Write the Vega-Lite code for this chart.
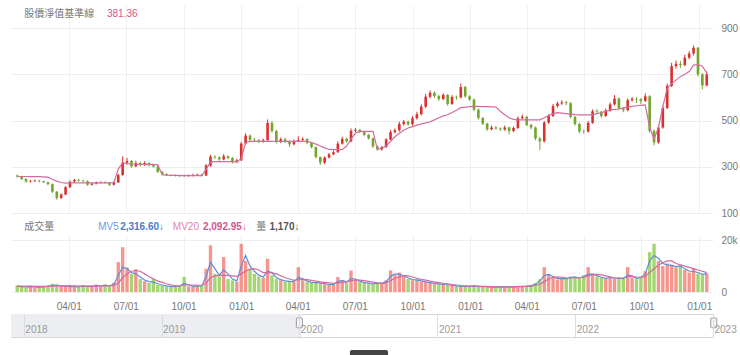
{
"$schema": "https://vega.github.io/schema/vega-lite/v6.json",
"padding": {"left": 10, "top": 5, "right": 0, "bottom": 0},
"background": "white",
"bounds": "flush",
"spacing": 22,
"config": {"font": "Noto Sans CJK TC", "view": {"stroke": null}},
"datasets": {"k": [
{"date":"2020-01-10","o":262,"h":266,"l":253,"c":258,"v":2600,"bv":258,"m5":2200,"m20":2300},
{"date":"2020-01-17","o":258,"h":261,"l":243,"c":247,"v":2200,"bv":258,"m5":2100,"m20":2300},
{"date":"2020-01-24","o":247,"h":250,"l":231,"c":236,"v":1800,"bv":258,"m5":2000,"m20":2250},
{"date":"2020-01-31","o":236,"h":243,"l":232,"c":238,"v":2400,"bv":257,"m5":2100,"m20":2250},
{"date":"2020-02-07","o":238,"h":245,"l":234,"c":240,"v":1500,"bv":257,"m5":1900,"m20":2200},
{"date":"2020-02-14","o":240,"h":244,"l":233,"c":237,"v":1900,"bv":257,"m5":1900,"m20":2150},
{"date":"2020-02-21","o":237,"h":240,"l":229,"c":233,"v":2100,"bv":256,"m5":2000,"m20":2150},
{"date":"2020-02-28","o":233,"h":236,"l":220,"c":225,"v":2500,"bv":255,"m5":2200,"m20":2200},
{"date":"2020-03-06","o":225,"h":228,"l":187,"c":192,"v":3200,"bv":245,"m5":2600,"m20":2300},
{"date":"2020-03-13","o":192,"h":195,"l":158,"c":165,"v":2800,"bv":238,"m5":2700,"m20":2350},
{"date":"2020-03-20","o":165,"h":185,"l":160,"c":180,"v":2400,"bv":232,"m5":2400,"m20":2400},
{"date":"2020-03-27","o":180,"h":216,"l":177,"c":212,"v":2000,"bv":229,"m5":2200,"m20":2400},
{"date":"2020-04-03","o":212,"h":240,"l":208,"c":236,"v":2600,"bv":230,"m5":2200,"m20":2400},
{"date":"2020-04-10","o":236,"h":248,"l":232,"c":243,"v":1800,"bv":230,"m5":2000,"m20":2350},
{"date":"2020-04-17","o":243,"h":248,"l":236,"c":240,"v":2200,"bv":230,"m5":2100,"m20":2300},
{"date":"2020-04-24","o":240,"h":244,"l":233,"c":238,"v":2700,"bv":230,"m5":2300,"m20":2300},
{"date":"2020-05-01","o":238,"h":241,"l":218,"c":222,"v":2000,"bv":230,"m5":2200,"m20":2250},
{"date":"2020-05-08","o":222,"h":231,"l":219,"c":227,"v":2400,"bv":230,"m5":2200,"m20":2250},
{"date":"2020-05-15","o":227,"h":236,"l":224,"c":232,"v":2900,"bv":230,"m5":2500,"m20":2300},
{"date":"2020-05-22","o":232,"h":237,"l":228,"c":233,"v":2100,"bv":230,"m5":2400,"m20":2300},
{"date":"2020-05-29","o":233,"h":237,"l":227,"c":231,"v":3000,"bv":230,"m5":2500,"m20":2350},
{"date":"2020-06-05","o":231,"h":234,"l":217,"c":222,"v":2300,"bv":230,"m5":2500,"m20":2350},
{"date":"2020-06-12","o":222,"h":236,"l":219,"c":232,"v":3600,"bv":232,"m5":2900,"m20":2500},
{"date":"2020-06-19","o":232,"h":270,"l":230,"c":264,"v":11500,"bv":290,"m5":6500,"m20":3500},
{"date":"2020-06-26","o":264,"h":345,"l":262,"c":318,"v":17300,"bv":318,"m5":9600,"m20":5500},
{"date":"2020-07-03","o":318,"h":338,"l":310,"c":325,"v":9500,"bv":314,"m5":9000,"m20":7000},
{"date":"2020-07-10","o":325,"h":330,"l":296,"c":302,"v":7000,"bv":312,"m5":7500,"m20":8000},
{"date":"2020-07-17","o":302,"h":326,"l":298,"c":316,"v":8800,"bv":311,"m5":7000,"m20":8300},
{"date":"2020-07-24","o":316,"h":322,"l":302,"c":308,"v":5000,"bv":310,"m5":5800,"m20":8000},
{"date":"2020-07-31","o":308,"h":324,"l":304,"c":316,"v":4200,"bv":310,"m5":4600,"m20":7000},
{"date":"2020-08-07","o":316,"h":320,"l":301,"c":307,"v":3500,"bv":310,"m5":4000,"m20":6000},
{"date":"2020-08-14","o":307,"h":312,"l":296,"c":301,"v":5200,"bv":310,"m5":3800,"m20":5000},
{"date":"2020-08-21","o":301,"h":304,"l":273,"c":278,"v":2800,"bv":308,"m5":3200,"m20":4200},
{"date":"2020-08-28","o":278,"h":281,"l":263,"c":268,"v":2600,"bv":266,"m5":2700,"m20":3700},
{"date":"2020-09-04","o":268,"h":272,"l":260,"c":264,"v":2200,"bv":264,"m5":2400,"m20":3200},
{"date":"2020-09-11","o":264,"h":268,"l":259,"c":263,"v":2000,"bv":263,"m5":2200,"m20":2800},
{"date":"2020-09-18","o":263,"h":267,"l":258,"c":262,"v":2400,"bv":263,"m5":2200,"m20":2500},
{"date":"2020-09-25","o":262,"h":266,"l":257,"c":261,"v":2100,"bv":262,"m5":2300,"m20":2300},
{"date":"2020-10-02","o":261,"h":266,"l":256,"c":260,"v":5800,"bv":262,"m5":3300,"m20":2700},
{"date":"2020-10-09","o":260,"h":267,"l":257,"c":262,"v":2200,"bv":262,"m5":2800,"m20":2700},
{"date":"2020-10-16","o":262,"h":270,"l":258,"c":265,"v":2000,"bv":262,"m5":2200,"m20":2700},
{"date":"2020-10-23","o":265,"h":271,"l":261,"c":266,"v":2500,"bv":262,"m5":2300,"m20":2700},
{"date":"2020-10-30","o":266,"h":268,"l":258,"c":262,"v":2300,"bv":262,"m5":2400,"m20":2500},
{"date":"2020-11-06","o":262,"h":312,"l":260,"c":305,"v":9000,"bv":290,"m5":6000,"m20":3500},
{"date":"2020-11-13","o":305,"h":352,"l":300,"c":344,"v":18000,"bv":320,"m5":11500,"m20":5500},
{"date":"2020-11-20","o":344,"h":350,"l":334,"c":341,"v":7000,"bv":322,"m5":9000,"m20":6200},
{"date":"2020-11-27","o":341,"h":345,"l":326,"c":332,"v":6000,"bv":322,"m5":6500,"m20":6400},
{"date":"2020-12-04","o":332,"h":355,"l":328,"c":345,"v":13500,"bv":322,"m5":8500,"m20":6400},
{"date":"2020-12-11","o":345,"h":350,"l":332,"c":338,"v":5000,"bv":322,"m5":7000,"m20":6400},
{"date":"2020-12-18","o":338,"h":342,"l":314,"c":320,"v":4500,"bv":322,"m5":5000,"m20":6200},
{"date":"2020-12-25","o":320,"h":334,"l":316,"c":328,"v":4000,"bv":322,"m5":4300,"m20":6000},
{"date":"2021-01-01","o":328,"h":408,"l":325,"c":400,"v":18600,"bv":335,"m5":10000,"m20":7000},
{"date":"2021-01-08","o":400,"h":445,"l":396,"c":435,"v":12000,"bv":405,"m5":14100,"m20":8000},
{"date":"2021-01-15","o":435,"h":440,"l":410,"c":417,"v":9000,"bv":410,"m5":10000,"m20":8800},
{"date":"2021-01-22","o":417,"h":425,"l":408,"c":415,"v":7000,"bv":410,"m5":8000,"m20":9000},
{"date":"2021-01-29","o":415,"h":420,"l":402,"c":409,"v":6000,"bv":410,"m5":6500,"m20":8500},
{"date":"2021-02-05","o":409,"h":422,"l":404,"c":415,"v":5500,"bv":410,"m5":5800,"m20":7500},
{"date":"2021-02-12","o":415,"h":505,"l":412,"c":490,"v":12800,"bv":410,"m5":8000,"m20":7500},
{"date":"2021-02-19","o":490,"h":498,"l":448,"c":455,"v":6500,"bv":410,"m5":7500,"m20":7400},
{"date":"2021-02-26","o":455,"h":460,"l":400,"c":408,"v":5000,"bv":410,"m5":5500,"m20":7000},
{"date":"2021-03-05","o":408,"h":426,"l":402,"c":419,"v":4500,"bv":410,"m5":4800,"m20":6300},
{"date":"2021-03-12","o":419,"h":424,"l":404,"c":410,"v":4000,"bv":410,"m5":4300,"m20":5500},
{"date":"2021-03-19","o":410,"h":414,"l":386,"c":397,"v":4200,"bv":410,"m5":4100,"m20":5000},
{"date":"2021-03-26","o":397,"h":418,"l":393,"c":412,"v":3800,"bv":410,"m5":4000,"m20":4500},
{"date":"2021-04-02","o":412,"h":432,"l":408,"c":416,"v":9600,"bv":410,"m5":5500,"m20":4800},
{"date":"2021-04-09","o":416,"h":428,"l":410,"c":420,"v":4500,"bv":410,"m5":5200,"m20":4900},
{"date":"2021-04-16","o":420,"h":424,"l":398,"c":404,"v":3800,"bv":410,"m5":4200,"m20":4800},
{"date":"2021-04-23","o":404,"h":408,"l":380,"c":385,"v":3500,"bv":405,"m5":3700,"m20":4500},
{"date":"2021-04-30","o":385,"h":388,"l":336,"c":342,"v":3800,"bv":398,"m5":3600,"m20":4200},
{"date":"2021-05-07","o":342,"h":345,"l":308,"c":318,"v":3400,"bv":390,"m5":3500,"m20":3900},
{"date":"2021-05-14","o":318,"h":345,"l":312,"c":340,"v":3000,"bv":382,"m5":3200,"m20":3700},
{"date":"2021-05-21","o":340,"h":360,"l":336,"c":354,"v":2800,"bv":375,"m5":2900,"m20":3500},
{"date":"2021-05-28","o":354,"h":370,"l":350,"c":363,"v":3000,"bv":374,"m5":2900,"m20":3300},
{"date":"2021-06-04","o":363,"h":410,"l":360,"c":400,"v":5800,"bv":374,"m5":4000,"m20":3500},
{"date":"2021-06-11","o":400,"h":430,"l":396,"c":421,"v":4200,"bv":374,"m5":4500,"m20":3700},
{"date":"2021-06-18","o":421,"h":426,"l":404,"c":410,"v":3600,"bv":390,"m5":3900,"m20":3900},
{"date":"2021-06-25","o":410,"h":466,"l":406,"c":456,"v":8300,"bv":420,"m5":5200,"m20":4400},
{"date":"2021-07-02","o":456,"h":468,"l":450,"c":460,"v":4500,"bv":445,"m5":5000,"m20":4700},
{"date":"2021-07-09","o":460,"h":464,"l":445,"c":451,"v":3800,"bv":453,"m5":4100,"m20":4600},
{"date":"2021-07-16","o":451,"h":455,"l":432,"c":438,"v":3500,"bv":453,"m5":3700,"m20":4400},
{"date":"2021-07-23","o":438,"h":442,"l":418,"c":423,"v":3200,"bv":453,"m5":3400,"m20":4100},
{"date":"2021-07-30","o":423,"h":426,"l":382,"c":388,"v":3000,"bv":453,"m5":3100,"m20":3800},
{"date":"2021-08-06","o":388,"h":392,"l":370,"c":375,"v":3500,"bv":376,"m5":3300,"m20":3500},
{"date":"2021-08-13","o":375,"h":390,"l":370,"c":385,"v":3300,"bv":380,"m5":3400,"m20":3300},
{"date":"2021-08-20","o":385,"h":424,"l":382,"c":418,"v":4500,"bv":390,"m5":4000,"m20":3500},
{"date":"2021-08-27","o":418,"h":458,"l":414,"c":450,"v":8300,"bv":410,"m5":6000,"m20":4400},
{"date":"2021-09-03","o":450,"h":466,"l":444,"c":458,"v":6500,"bv":430,"m5":7000,"m20":5300},
{"date":"2021-09-10","o":458,"h":495,"l":452,"c":485,"v":7500,"bv":445,"m5":6800,"m20":5800},
{"date":"2021-09-17","o":485,"h":503,"l":478,"c":495,"v":6000,"bv":458,"m5":6300,"m20":6300},
{"date":"2021-09-24","o":495,"h":500,"l":478,"c":484,"v":5000,"bv":468,"m5":5400,"m20":6200},
{"date":"2021-10-01","o":484,"h":520,"l":478,"c":510,"v":4500,"bv":474,"m5":4800,"m20":5800},
{"date":"2021-10-08","o":510,"h":538,"l":504,"c":528,"v":4800,"bv":480,"m5":4700,"m20":5300},
{"date":"2021-10-15","o":528,"h":570,"l":522,"c":560,"v":4000,"bv":486,"m5":4300,"m20":4900},
{"date":"2021-10-22","o":560,"h":615,"l":555,"c":603,"v":3800,"bv":490,"m5":3900,"m20":4600},
{"date":"2021-10-29","o":603,"h":630,"l":596,"c":620,"v":3500,"bv":495,"m5":3600,"m20":4200},
{"date":"2021-11-05","o":620,"h":626,"l":598,"c":606,"v":3200,"bv":503,"m5":3300,"m20":3900},
{"date":"2021-11-12","o":606,"h":612,"l":585,"c":593,"v":3000,"bv":512,"m5":3100,"m20":3600},
{"date":"2021-11-19","o":593,"h":618,"l":588,"c":611,"v":2800,"bv":520,"m5":2900,"m20":3300},
{"date":"2021-11-26","o":611,"h":615,"l":565,"c":572,"v":2700,"bv":525,"m5":2800,"m20":3100},
{"date":"2021-12-03","o":572,"h":610,"l":568,"c":602,"v":2500,"bv":535,"m5":2600,"m20":2900},
{"date":"2021-12-10","o":602,"h":608,"l":590,"c":600,"v":2200,"bv":545,"m5":2400,"m20":2700},
{"date":"2021-12-17","o":600,"h":660,"l":596,"c":645,"v":2400,"bv":556,"m5":2300,"m20":2500},
{"date":"2021-12-24","o":645,"h":650,"l":598,"c":605,"v":2100,"bv":558,"m5":2200,"m20":2400},
{"date":"2021-12-31","o":605,"h":610,"l":585,"c":591,"v":2300,"bv":560,"m5":2200,"m20":2300},
{"date":"2022-01-07","o":591,"h":595,"l":540,"c":547,"v":2500,"bv":561,"m5":2400,"m20":2300},
{"date":"2022-01-14","o":547,"h":552,"l":504,"c":511,"v":2000,"bv":561,"m5":2200,"m20":2300},
{"date":"2022-01-21","o":511,"h":515,"l":480,"c":487,"v":2200,"bv":560,"m5":2100,"m20":2200},
{"date":"2022-01-28","o":487,"h":490,"l":455,"c":462,"v":2000,"bv":560,"m5":2100,"m20":2200},
{"date":"2022-02-04","o":462,"h":478,"l":458,"c":470,"v":1800,"bv":559,"m5":1900,"m20":2100},
{"date":"2022-02-11","o":470,"h":476,"l":460,"c":466,"v":2000,"bv":558,"m5":1900,"m20":2000},
{"date":"2022-02-18","o":466,"h":470,"l":455,"c":462,"v":2200,"bv":540,"m5":2100,"m20":2000},
{"date":"2022-02-25","o":462,"h":478,"l":456,"c":470,"v":1900,"bv":525,"m5":2000,"m20":2000},
{"date":"2022-03-04","o":470,"h":474,"l":440,"c":455,"v":2100,"bv":512,"m5":2000,"m20":2000},
{"date":"2022-03-11","o":455,"h":474,"l":450,"c":468,"v":2000,"bv":505,"m5":2000,"m20":2000},
{"date":"2022-03-18","o":468,"h":518,"l":464,"c":510,"v":2300,"bv":503,"m5":2200,"m20":2100},
{"date":"2022-03-25","o":510,"h":526,"l":505,"c":516,"v":2100,"bv":503,"m5":2200,"m20":2100},
{"date":"2022-04-01","o":516,"h":520,"l":475,"c":481,"v":2400,"bv":503,"m5":2300,"m20":2200},
{"date":"2022-04-08","o":481,"h":486,"l":462,"c":470,"v":2600,"bv":503,"m5":2500,"m20":2300},
{"date":"2022-04-15","o":470,"h":474,"l":415,"c":422,"v":3500,"bv":503,"m5":3000,"m20":2500},
{"date":"2022-04-22","o":422,"h":428,"l":372,"c":410,"v":5000,"bv":503,"m5":4300,"m20":3000},
{"date":"2022-04-29","o":410,"h":498,"l":405,"c":491,"v":9600,"bv":512,"m5":6400,"m20":4000},
{"date":"2022-05-06","o":491,"h":528,"l":486,"c":520,"v":7000,"bv":522,"m5":6800,"m20":5000},
{"date":"2022-05-13","o":520,"h":572,"l":515,"c":563,"v":6000,"bv":530,"m5":6000,"m20":5600},
{"date":"2022-05-20","o":563,"h":582,"l":556,"c":574,"v":4800,"bv":534,"m5":5200,"m20":5800},
{"date":"2022-05-27","o":574,"h":588,"l":568,"c":579,"v":5500,"bv":532,"m5":5200,"m20":5700},
{"date":"2022-06-03","o":579,"h":585,"l":566,"c":575,"v":5000,"bv":530,"m5":5100,"m20":5500},
{"date":"2022-06-10","o":575,"h":580,"l":510,"c":516,"v":6000,"bv":528,"m5":5600,"m20":5400},
{"date":"2022-06-17","o":516,"h":520,"l":478,"c":485,"v":5800,"bv":526,"m5":5800,"m20":5500},
{"date":"2022-06-24","o":485,"h":490,"l":445,"c":453,"v":5200,"bv":525,"m5":5400,"m20":5500},
{"date":"2022-07-01","o":453,"h":462,"l":443,"c":452,"v":6500,"bv":525,"m5":6000,"m20":5700},
{"date":"2022-07-08","o":452,"h":498,"l":448,"c":490,"v":9600,"bv":525,"m5":6800,"m20":6300},
{"date":"2022-07-15","o":490,"h":548,"l":486,"c":540,"v":7000,"bv":525,"m5":7000,"m20":6700},
{"date":"2022-07-22","o":540,"h":550,"l":530,"c":538,"v":6000,"bv":530,"m5":6300,"m20":6800},
{"date":"2022-07-29","o":538,"h":542,"l":512,"c":520,"v":5500,"bv":535,"m5":5700,"m20":6600},
{"date":"2022-08-05","o":520,"h":552,"l":516,"c":544,"v":5200,"bv":540,"m5":5300,"m20":6200},
{"date":"2022-08-12","o":544,"h":578,"l":538,"c":570,"v":6000,"bv":545,"m5":5600,"m20":5800},
{"date":"2022-08-19","o":570,"h":610,"l":565,"c":595,"v":5000,"bv":548,"m5":5300,"m20":5500},
{"date":"2022-08-26","o":595,"h":600,"l":545,"c":552,"v":5500,"bv":550,"m5":5300,"m20":5400},
{"date":"2022-09-02","o":552,"h":558,"l":536,"c":545,"v":5200,"bv":555,"m5":5200,"m20":5400},
{"date":"2022-09-09","o":545,"h":596,"l":540,"c":588,"v":9600,"bv":558,"m5":6500,"m20":5800},
{"date":"2022-09-16","o":588,"h":602,"l":582,"c":594,"v":5500,"bv":561,"m5":6200,"m20":6000},
{"date":"2022-09-23","o":594,"h":600,"l":576,"c":592,"v":5000,"bv":564,"m5":5300,"m20":5800},
{"date":"2022-09-30","o":592,"h":598,"l":572,"c":585,"v":6000,"bv":566,"m5":5600,"m20":5600},
{"date":"2022-10-07","o":585,"h":618,"l":580,"c":605,"v":8000,"bv":568,"m5":7000,"m20":6000},
{"date":"2022-10-14","o":605,"h":610,"l":448,"c":455,"v":15400,"bv":470,"m5":12000,"m20":7500},
{"date":"2022-10-21","o":455,"h":462,"l":392,"c":405,"v":18600,"bv":420,"m5":14100,"m20":9000},
{"date":"2022-10-28","o":405,"h":478,"l":400,"c":470,"v":12000,"bv":470,"m5":13000,"m20":10300},
{"date":"2022-11-04","o":470,"h":562,"l":465,"c":555,"v":10000,"bv":560,"m5":11000,"m20":11300},
{"date":"2022-11-11","o":555,"h":660,"l":550,"c":650,"v":11000,"bv":640,"m5":10500,"m20":12000},
{"date":"2022-11-18","o":650,"h":750,"l":645,"c":735,"v":10500,"bv":660,"m5":10300,"m20":12000},
{"date":"2022-11-25","o":735,"h":760,"l":725,"c":745,"v":9500,"bv":675,"m5":9800,"m20":11000},
{"date":"2022-12-02","o":745,"h":758,"l":728,"c":740,"v":10500,"bv":690,"m5":10000,"m20":10500},
{"date":"2022-12-09","o":740,"h":785,"l":735,"c":772,"v":8500,"bv":700,"m5":9000,"m20":10000},
{"date":"2022-12-16","o":772,"h":800,"l":765,"c":790,"v":7500,"bv":712,"m5":8000,"m20":9500},
{"date":"2022-12-23","o":790,"h":825,"l":782,"c":815,"v":9000,"bv":740,"m5":8000,"m20":9000},
{"date":"2022-12-30","o":815,"h":818,"l":690,"c":700,"v":7000,"bv":742,"m5":7500,"m20":8500},
{"date":"2023-01-06","o":700,"h":705,"l":635,"c":652,"v":6500,"bv":735,"m5":6800,"m20":8000},
{"date":"2023-01-13","o":652,"h":712,"l":648,"c":700,"v":7200,"bv":705,"m5":7000,"m20":7500}
]},
"vconcat": [
{
 "width": 702, "height": 208,
 "layer": [
  {"data": {"name": "k"}, "mark": {"type": "rule", "strokeWidth": 1},
   "encoding": {
    "x": {"field": "date", "type": "temporal",
     "scale": {"type": "utc", "domain": [{"year":2020,"month":1,"date":8,"utc":true},{"year":2023,"month":1,"date":15,"utc":true}]},
     "axis": {"values": [{"year":2020,"month":4,"date":1,"utc":true},{"year":2020,"month":7,"date":1,"utc":true},{"year":2020,"month":10,"date":1,"utc":true},{"year":2021,"month":1,"date":1,"utc":true},{"year":2021,"month":4,"date":1,"utc":true},{"year":2021,"month":7,"date":1,"utc":true},{"year":2021,"month":10,"date":1,"utc":true},{"year":2022,"month":1,"date":1,"utc":true},{"year":2022,"month":4,"date":1,"utc":true},{"year":2022,"month":7,"date":1,"utc":true},{"year":2022,"month":10,"date":1,"utc":true},{"year":2023,"month":1,"date":1,"utc":true}],
      "labels": false, "ticks": false, "domain": false, "grid": true, "gridColor": "#f0f0f0", "title": null}},
    "y": {"field": "l", "type": "quantitative", "scale": {"domain": [100, 1000], "nice": false, "zero": false},
      "axis": {"orient": "right", "values": [100,200,300,400,500,600,700,800,900], "domain": false, "ticks": false, "labelPadding": 8, "labelColor": "#777", "labelFontSize": 10, "labelFont": "Liberation Sans", "grid": true, "gridColor": "#eeeeee", "gridOpacity": {"condition": {"test": "datum.value % 200 === 100", "value": 1}, "value": 0}, "title": null}},
    "y2": {"field": "h"},
    "color": {"condition": {"test": "datum.c >= datum.o", "value": "#d8312e"}, "value": "#6fa62b"}}},
  {"data": {"name": "k"}, "mark": {"type": "bar", "width": 2.6},
   "encoding": {"x": {"field": "date", "type": "temporal"}, "y": {"field": "o", "type": "quantitative"}, "y2": {"field": "c"},
    "color": {"condition": {"test": "datum.c >= datum.o", "value": "#d8312e"}, "value": "#6fa62b"}}},
  {"data": {"name": "k"}, "mark": {"type": "line", "color": "#d46b9f", "strokeWidth": 1.2},
   "encoding": {"x": {"field": "date", "type": "temporal"}, "y": {"field": "bv", "type": "quantitative"}}},
  {"data": {"values": [{"t": "股價淨值基準線"}]}, "mark": {"type": "text", "align": "left", "baseline": "middle", "fontSize": 10, "color": "#777"},
   "encoding": {"x": {"datum": {"year":2020,"month":1,"date":21,"utc":true}, "type": "temporal"}, "y": {"datum": 961, "type": "quantitative"}, "text": {"field": "t"}}},
  {"data": {"values": [{"t": "381.36"}]}, "mark": {"type": "text", "align": "left", "baseline": "middle", "fontSize": 10, "font": "Liberation Sans", "color": "#d4558f"},
   "encoding": {"x": {"datum": {"year":2020,"month":6,"date":1,"utc":true}, "type": "temporal"}, "y": {"datum": 961, "type": "quantitative"}, "text": {"field": "t"}}}
 ]
},
{
 "width": 702, "height": 57,
 "layer": [
  {"data": {"name": "k"}, "mark": {"type": "bar", "width": 3.4, "opacity": 0.85},
   "encoding": {
    "x": {"field": "date", "type": "temporal",
     "scale": {"type": "utc", "domain": [{"year":2020,"month":1,"date":8,"utc":true},{"year":2023,"month":1,"date":15,"utc":true}]},
     "axis": {"values": [{"year":2020,"month":4,"date":1,"utc":true},{"year":2020,"month":7,"date":1,"utc":true},{"year":2020,"month":10,"date":1,"utc":true},{"year":2021,"month":1,"date":1,"utc":true},{"year":2021,"month":4,"date":1,"utc":true},{"year":2021,"month":7,"date":1,"utc":true},{"year":2021,"month":10,"date":1,"utc":true},{"year":2022,"month":1,"date":1,"utc":true},{"year":2022,"month":4,"date":1,"utc":true},{"year":2022,"month":7,"date":1,"utc":true},{"year":2022,"month":10,"date":1,"utc":true},{"year":2023,"month":1,"date":1,"utc":true}],
      "format": "%m/%d", "labelColor": "#777", "labelFontSize": 10, "labelFont": "Liberation Sans", "labelPadding": 9, "ticks": false, "domain": false, "grid": true, "gridColor": "#f0f0f0", "labelOverlap": false, "title": null}},
    "y": {"field": "v", "type": "quantitative", "scale": {"domain": [0, 22000], "nice": false},
      "axis": {"orient": "right", "values": [0, 10000, 20000], "labelExpr": "datum.value == 0 ? '0' : (datum.value / 1000) + 'k'", "domain": false, "ticks": false, "labelPadding": 8, "labelColor": "#777", "labelFontSize": 10, "labelFont": "Liberation Sans", "gridColor": "#eeeeee", "title": null}},
    "color": {"condition": {"test": "datum.c >= datum.o", "value": "#f28479"}, "value": "#93cf58"}}},
  {"data": {"name": "k"}, "mark": {"type": "line", "color": "#5b8fd9", "strokeWidth": 1.2},
   "encoding": {"x": {"field": "date", "type": "temporal"}, "y": {"field": "m5", "type": "quantitative"}}},
  {"data": {"name": "k"}, "mark": {"type": "line", "color": "#d669a0", "strokeWidth": 1.2},
   "encoding": {"x": {"field": "date", "type": "temporal"}, "y": {"field": "m20", "type": "quantitative"}}},
  {"data": {"values": [{"t": "成交量"}]}, "mark": {"type": "text", "align": "left", "baseline": "middle", "fontSize": 10, "color": "#777"},
   "encoding": {"x": {"datum": {"year":2020,"month":1,"date":21,"utc":true}, "type": "temporal"}, "y": {"datum": 25000, "type": "quantitative"}, "text": {"field": "t"}}},
  {"data": {"values": [{"t": "MV5"}]}, "mark": {"type": "text", "align": "left", "baseline": "middle", "fontSize": 10, "font": "Liberation Sans", "color": "#6f9be0"},
   "encoding": {"x": {"datum": {"year":2020,"month":5,"date":18,"utc":true}, "type": "temporal"}, "y": {"datum": 25000, "type": "quantitative"}, "text": {"field": "t"}}},
  {"data": {"values": [{"t": "2,316.60↓"}]}, "mark": {"type": "text", "align": "left", "baseline": "middle", "fontSize": 10, "font": "Liberation Sans", "fontWeight": "bold", "color": "#4a7cc9"},
   "encoding": {"x": {"datum": {"year":2020,"month":6,"date":22,"utc":true}, "type": "temporal"}, "y": {"datum": 25000, "type": "quantitative"}, "text": {"field": "t"}}},
  {"data": {"values": [{"t": "MV20"}]}, "mark": {"type": "text", "align": "left", "baseline": "middle", "fontSize": 10, "font": "Liberation Sans", "color": "#e084ad"},
   "encoding": {"x": {"datum": {"year":2020,"month":9,"date":14,"utc":true}, "type": "temporal"}, "y": {"datum": 25000, "type": "quantitative"}, "text": {"field": "t"}}},
  {"data": {"values": [{"t": "2,092.95↓"}]}, "mark": {"type": "text", "align": "left", "baseline": "middle", "fontSize": 10, "font": "Liberation Sans", "fontWeight": "bold", "color": "#d4558f"},
   "encoding": {"x": {"datum": {"year":2020,"month":11,"date":1,"utc":true}, "type": "temporal"}, "y": {"datum": 25000, "type": "quantitative"}, "text": {"field": "t"}}},
  {"data": {"values": [{"t": "量"}]}, "mark": {"type": "text", "align": "left", "baseline": "middle", "fontSize": 10, "color": "#777"},
   "encoding": {"x": {"datum": {"year":2021,"month":1,"date":25,"utc":true}, "type": "temporal"}, "y": {"datum": 25000, "type": "quantitative"}, "text": {"field": "t"}}},
  {"data": {"values": [{"t": "1,170↓"}]}, "mark": {"type": "text", "align": "left", "baseline": "middle", "fontSize": 10, "font": "Liberation Sans", "fontWeight": "bold", "color": "#555"},
   "encoding": {"x": {"datum": {"year":2021,"month":2,"date":15,"utc":true}, "type": "temporal"}, "y": {"datum": 25000, "type": "quantitative"}, "text": {"field": "t"}}}
 ]
},
{
 "width": 702, "height": 23,
 "view": {"stroke": "#d6d6d6"},
 "data": {"values": [{}]},
 "layer": [
  {"mark": {"type": "rect", "color": "#eceef2"},
   "encoding": {"x": {"datum": {"year":2017,"month":11,"date":28,"utc":true}, "type": "temporal",
      "scale": {"type": "utc", "domain": [{"year":2017,"month":11,"date":28,"utc":true},{"year":2023,"month":1,"date":1,"utc":true}]},
      "axis": {"values": [{"year":2018,"month":1,"date":1,"utc":true},{"year":2019,"month":1,"date":1,"utc":true},{"year":2020,"month":1,"date":1,"utc":true},{"year":2021,"month":1,"date":1,"utc":true},{"year":2022,"month":1,"date":1,"utc":true},{"year":2023,"month":1,"date":1,"utc":true}],
        "format": "%Y", "zindex": 1, "labelAlign": "left", "labelBaseline": "bottom", "labelPadding": -3, "labelOffset": 1, "ticks": false, "domain": false, "grid": true, "gridColor": "#dcdcdc", "labelColor": "#999", "labelFontSize": 10, "labelFont": "Liberation Sans", "labelOverlap": false, "labelBound": false, "labelFlush": false, "title": null}},
    "x2": {"datum": {"year":2020,"month":1,"date":7,"utc":true}},
    "y": {"datum": 0, "type": "quantitative", "scale": {"domain": [0, 1], "nice": false}, "axis": null},
    "y2": {"datum": 1}}},
  {"mark": {"type": "rect", "fill": "#f4f4f4", "stroke": "#999", "strokeWidth": 1, "cornerRadius": 1},
   "encoding": {"x": {"datum": {"year":2019,"month":12,"date":24,"utc":true}, "type": "temporal"}, "x2": {"datum": {"year":2020,"month":1,"date":9,"utc":true}},
    "y": {"datum": 0.4, "type": "quantitative"}, "y2": {"datum": 0.83}}},
  {"mark": {"type": "rect", "fill": "#f4f4f4", "stroke": "#999", "strokeWidth": 1, "cornerRadius": 1},
   "encoding": {"x": {"datum": {"year":2022,"month":12,"date":26,"utc":true}, "type": "temporal"}, "x2": {"datum": {"year":2023,"month":1,"date":11,"utc":true}},
    "y": {"datum": 0.4, "type": "quantitative"}, "y2": {"datum": 0.83}}},
  {"mark": {"type": "rect", "fill": "#444", "cornerRadius": 2},
   "encoding": {"x": {"datum": {"year":2020,"month":5,"date":14,"utc":true}, "type": "temporal"}, "x2": {"datum": {"year":2020,"month":8,"date":23,"utc":true}},
    "y": {"datum": -0.56, "type": "quantitative"}, "y2": {"datum": -1.0}}}
 ]
}
]
}
